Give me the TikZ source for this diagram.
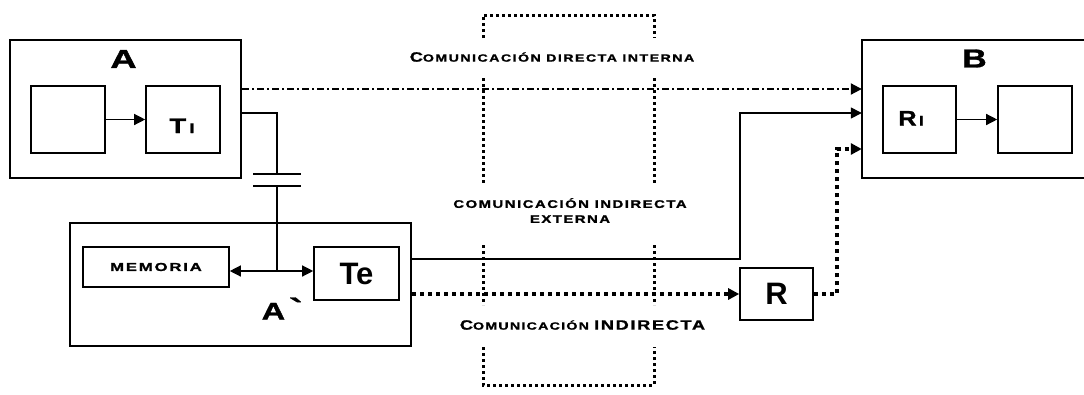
\documentclass[tikz,border=0pt]{standalone}
\usepackage{fontspec}
\usepackage{graphicx}
\usetikzlibrary{arrows.meta}
\newfontfamily\cpf[Ligatures=TeXOff]{Liberation Sans}
\newfontfamily\cph[Ligatures=TeXOff,BoldFeatures={FakeBold=1.2}]{Liberation Sans}
\newcommand\fs[1]{\fontsize{#1}{#1}\selectfont}
\newcommand\bigcapl[1]{{\fontsize{13.5}{15}\selectfont #1}}
\newcommand\hsc[2]{\scalebox{#1}[1]{#2}}
\tikzset{
  outerbox/.style={draw, line width=2pt, inner sep=0pt},
  innerbox/.style={draw, line width=1.6pt, inner sep=0pt},
  conn/.style={line width=1.3pt},
  arr/.style={-{Triangle[length=11pt,width=11pt]}},
  dashdot/.style={line width=2pt, dash pattern=on 7pt off 3pt on 2pt off 3pt},
  thickdot/.style={line width=4pt, dash pattern=on 4pt off 4pt},
  framedot/.style={line width=3pt, dash pattern=on 3pt off 3pt},
  plate/.style={line width=2pt},
  lbl/.style={font=\cph\bfseries, inner sep=0pt},
  arialbig/.style={font=\cpf\bfseries\fontsize{31}{31}\selectfont},
  captext/.style={inner sep=0pt, align=center}
}
\begin{document}
\begin{tikzpicture}[x=1pt,y=-1pt]
\useasboundingbox (0,0) rectangle (1084,394);
% system A
\node[outerbox, minimum width=231pt, minimum height=138pt] (A) at (125.5,109) {};
\node[lbl] (Alab) at (123.5,59) {\hsc{1.4}{\fs{26}A}};
\node[innerbox, minimum width=74pt, minimum height=67pt] (A1) at (68,119.5) {};
\node[innerbox, minimum width=74pt, minimum height=67pt] (Ti) at (183,119.5) {};
\node[lbl, anchor=base] (Tilab) at (182,133) {\hsc{1.3}{\fs{21}T\hspace{2.5pt}\fs{14}I}};
% system B
\node[minimum width=222pt, minimum height=138pt, inner sep=0pt] (B) at (973,109) {};
\draw[line width=2pt] (B.north east) -- (B.north west) -- (B.south west) -- (B.south east);
\node[lbl] (Blab) at (974.5,58.5) {\hsc{1.3}{\fs{26}B}};
\node[innerbox, minimum width=73pt, minimum height=67pt] (Ri) at (919.5,119.5) {};
\node[lbl, anchor=base] (Rilab) at (911,125.5) {\hsc{1.2}{\fs{21}R\hspace{2pt}\fs{14}I}};
\node[innerbox, minimum width=74pt, minimum height=67pt] (B2) at (1035,119.5) {};
% system A'
\node[outerbox, minimum width=341pt, minimum height=123pt] (Ap) at (240.5,284.5) {};
\node[innerbox, minimum width=146pt, minimum height=40pt, font=\cph\bfseries\addfontfeatures{LetterSpace=11}\fontsize{11.5}{12}\selectfont] (Mem) at (156,267) {\hsc{1.45}{MEMORIA}};
\node[innerbox, minimum width=85pt, minimum height=53pt, arialbig] (Te) at (356.5,273.5) {Te};
\node[lbl, anchor=base west] (Aplab) at (261.5,319.5) {\hsc{1.35}{\fs{24}A\hspace{3pt}\fs{30}`}};
% relay R
\node[innerbox, minimum width=73pt, minimum height=52pt, arialbig] (R) at (776.5,294) {R};
% texts
\node[captext, font=\cph\bfseries\addfontfeatures{LetterSpace=10.4}\fontsize{10.5}{15}\selectfont] (t1) at (552,57) {\hsc{1.35}{\bigcapl{C}OMUNICACIÓN DIRECTA INTERNA}};
\node[captext, font=\cph\bfseries\addfontfeatures{LetterSpace=10.3}\fontsize{11}{15}\selectfont] (t2) at (570,210.5) {\hsc{1.35}{COMUNICACIÓN INDIRECTA}\\\hsc{1.35}{EXTERNA}};
\node[captext, font=\cph\bfseries\addfontfeatures{LetterSpace=9}\fontsize{10.5}{15}\selectfont] (t3) at (582.5,325) {\hsc{1.35}{\bigcapl{C}OMUNICACIÓN \bigcapl{INDIRECTA}}};
% coordinates
\coordinate (c1) at (277,174);
\coordinate (c2) at (277,186);
\coordinate (j) at (277,271);
\coordinate (k1) at (740,113);
\coordinate (k2) at (837,149);
% capacitor link
\draw[conn] (A.east |- 0,113) -| (c1);
\draw[plate] ([xshift=-24pt]c1) -- ([xshift=24pt]c1);
\draw[plate] ([xshift=-24pt]c2) -- ([xshift=24pt]c2);
\draw[conn] (c2) -- (j);
\draw[conn, arr] (j) -- (Mem.east |- j);
\draw[conn, arr] (j) -- (Te.west |- j);
% internal arrows
\draw[conn, arr] (A1) -- (Ti);
\draw[conn, arr] (Ri) -- (B2);
% communications
\draw[dashdot, arr] (A.east |- 0,89) -- (B.west |- 0,89);
\draw[conn, arr] (Ap.east |- 0,259) -| (k1) -- (B.west |- k1);
\draw[thickdot, arr] (Ap.east |- R.west) -- (R.west);
\draw[thickdot, arr] (R.east) -| (k2) -- (B.west |- k2);
% dotted frame
\draw[framedot] (483,38) -- (483,15) -- (654,15) -- (654,38);
\draw[framedot] (483,78) -- (483,184);
\draw[framedot] (654,78) -- (654,184);
\draw[framedot] (483,245) -- (483,305);
\draw[framedot] (654,245) -- (654,305);
\draw[framedot] (483,347) -- (483,385) -- (654,385) -- (654,347);
\end{tikzpicture}
\end{document}
